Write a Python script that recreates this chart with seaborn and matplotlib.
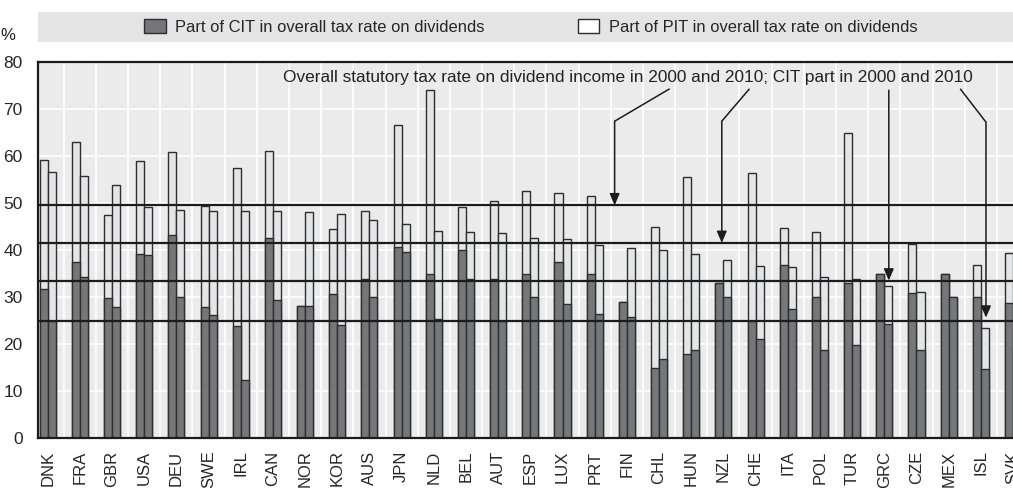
import numpy as np
import pandas as pd
import matplotlib
matplotlib.use("Agg")
import matplotlib.pyplot as plt
from matplotlib.patches import Patch, Rectangle
import seaborn as sns

# values (% of dividend income)
countries = ["DNK", "FRA", "GBR", "USA", "DEU", "SWE", "IRL", "CAN", "NOR", "KOR",
             "AUS", "JPN", "NLD", "BEL", "AUT", "ESP", "LUX", "PRT", "FIN", "CHL",
             "HUN", "NZL", "CHE", "ITA", "POL", "TUR", "GRC", "CZE", "MEX", "ISL", "SVK"]
total_2000 = [59.1, 63.0, 47.4, 58.9, 60.9, 49.4, 57.4, 61.1, 28.0, 44.5,
              48.4, 66.6, 74.0, 49.1, 50.4, 52.6, 52.2, 51.4, 29.0, 44.8,
              55.6, 33.0, 56.4, 44.7, 43.8, 65.0, 35.0, 41.3, 35.0, 36.8, 39.4]
cit_2000 = [31.7, 37.5, 29.8, 39.1, 43.2, 27.8, 23.9, 42.5, 28.0, 30.6,
            33.8, 40.7, 34.9, 40.1, 33.9, 34.8, 37.4, 35.0, 29.0, 14.8,
            17.8, 33.0, 24.9, 36.9, 29.9, 32.9, 35.0, 30.9, 35.0, 29.9, 28.8]
total_2010 = [56.5, 55.7, 53.8, 49.2, 48.5, 48.3, 48.3, 48.2, 48.1, 47.7,
              46.4, 45.5, 44.0, 43.8, 43.6, 42.5, 42.3, 41.0, 40.4, 39.9,
              39.1, 37.8, 36.7, 36.3, 34.2, 33.8, 32.3, 31.0, 30.0, 23.3, 19.0]
cit_2010 = [25.0, 34.3, 27.8, 39.0, 30.0, 26.2, 12.3, 29.4, 28.0, 24.1,
            29.9, 39.5, 25.4, 33.9, 24.8, 29.9, 28.5, 26.3, 25.8, 16.8,
            18.8, 29.9, 21.0, 27.4, 18.8, 19.8, 24.3, 18.8, 29.9, 14.7, 19.0]
years = ["2000", "2010"]

# averages shown as horizontal lines: overall 2000, overall 2010, CIT 2000, CIT 2010
ref_levels = [49.5, 41.5, 33.5, 25.0]

dark = "#75767b"
light = "#e4e5e7"
edge = "#2e2e2e"

df = pd.concat([
    pd.DataFrame({"country": countries, "year": years[0], "total": total_2000, "cit": cit_2000}),
    pd.DataFrame({"country": countries, "year": years[1], "total": total_2010, "cit": cit_2010}),
])

sns.set_style("white")
plt.rcParams["font.family"] = ["Liberation Sans", "DejaVu Sans"]

fig = plt.figure(figsize=(10.13, 4.88), dpi=100)
ax = fig.add_axes([38 / 1013, 1 - 438 / 488, 1 - 38 / 1013, (438 - 62) / 488])
ax.set_facecolor("#ebebeb")

sns.barplot(data=df, x="country", y="total", hue="year", order=countries, hue_order=years,
            palette={y: light for y in years}, width=0.5, edgecolor=edge, linewidth=1,
            errorbar=None, legend=False, ax=ax, zorder=2)
sns.barplot(data=df, x="country", y="cit", hue="year", order=countries, hue_order=years,
            palette={y: dark for y in years}, width=0.5, edgecolor=edge, linewidth=1,
            errorbar=None, legend=False, ax=ax, zorder=2)

for lvl in ref_levels:
    ax.axhline(lvl, color="#1c1c1c", lw=1.6, zorder=3)

ax.set_yticks(np.arange(0, 81, 10))
ax.set_xticks(np.arange(len(countries)) + 0.5, minor=True)
# the reference is cropped at the centre of the last country
ax.set_xlim(-0.3, len(countries) - 1)
ax.set_ylim(0, 80)
ax.set_xlabel("")
ax.set_ylabel("")

ax.set_axisbelow(True)
ax.grid(which="minor", axis="x", color="white", lw=1.2)
ax.grid(which="major", axis="y", color="white", lw=1.2)
ax.tick_params(axis="x", which="major", length=0, pad=9, labelsize=12, labelrotation=90)
ax.tick_params(axis="x", which="minor", direction="in", length=6, width=1, color="#555555")
ax.tick_params(axis="y", direction="in", length=7, width=1, color="#555555", pad=11, labelsize=12.5)

for side in ["left", "bottom", "top"]:
    ax.spines[side].set_color("#1c1c1c")
    ax.spines[side].set_linewidth(1.6)
ax.spines["right"].set_visible(False)

# annotation text and arrows
ax.text(28.74, 76.8, "Overall statutory tax rate on dividend income in 2000 and 2010; CIT part in 2000 and 2010",
        ha="right", va="center", fontsize=12.4, color="#222222", zorder=5)
arrows = [
    ([19.33, 17.62], [74.3, 67.4], ref_levels[0]),
    ([21.81, 20.95], [74.3, 67.4], ref_levels[1]),
    ([26.14, 26.14], [74.0, 74.0], ref_levels[2]),
    ([28.36, 29.16], [74.3, 67.2], ref_levels[3] + 0.6),
]
for xs, ys, tip in arrows:
    ax.plot(xs, ys, color="#1c1c1c", lw=1.1, zorder=5, solid_capstyle="butt")
    ax.annotate("", xy=(xs[-1], tip), xytext=(xs[-1], ys[-1]),
                arrowprops=dict(arrowstyle="-|>,head_length=0.7,head_width=0.3",
                                color="#1c1c1c", lw=1.1, shrinkA=0, shrinkB=0), zorder=5)

# legend band
fig.add_artist(Rectangle((38 / 1013, 1 - 42 / 488), 1 - 38 / 1013, 30 / 488,
                         transform=fig.transFigure, facecolor="#e4e4e4", edgecolor="none", zorder=0))
handles = [Patch(facecolor=dark, edgecolor=edge, linewidth=1),
           Patch(facecolor="white", edgecolor=edge, linewidth=1)]
labels = ["Part of CIT in overall tax rate on dividends", "Part of PIT in overall tax rate on dividends"]
fig.legend(handles, labels, loc="center", bbox_to_anchor=(0.524, 1 - 27 / 488), ncol=2,
           frameon=False, fontsize=11.9, handlelength=1.3, handleheight=0.85,
           handletextpad=0.6, columnspacing=5.6)
fig.text(8 / 1013, 1 - 36 / 488, "%", fontsize=12, ha="center", va="center", color="#222222")

fig.savefig("out.png", dpi=100)
